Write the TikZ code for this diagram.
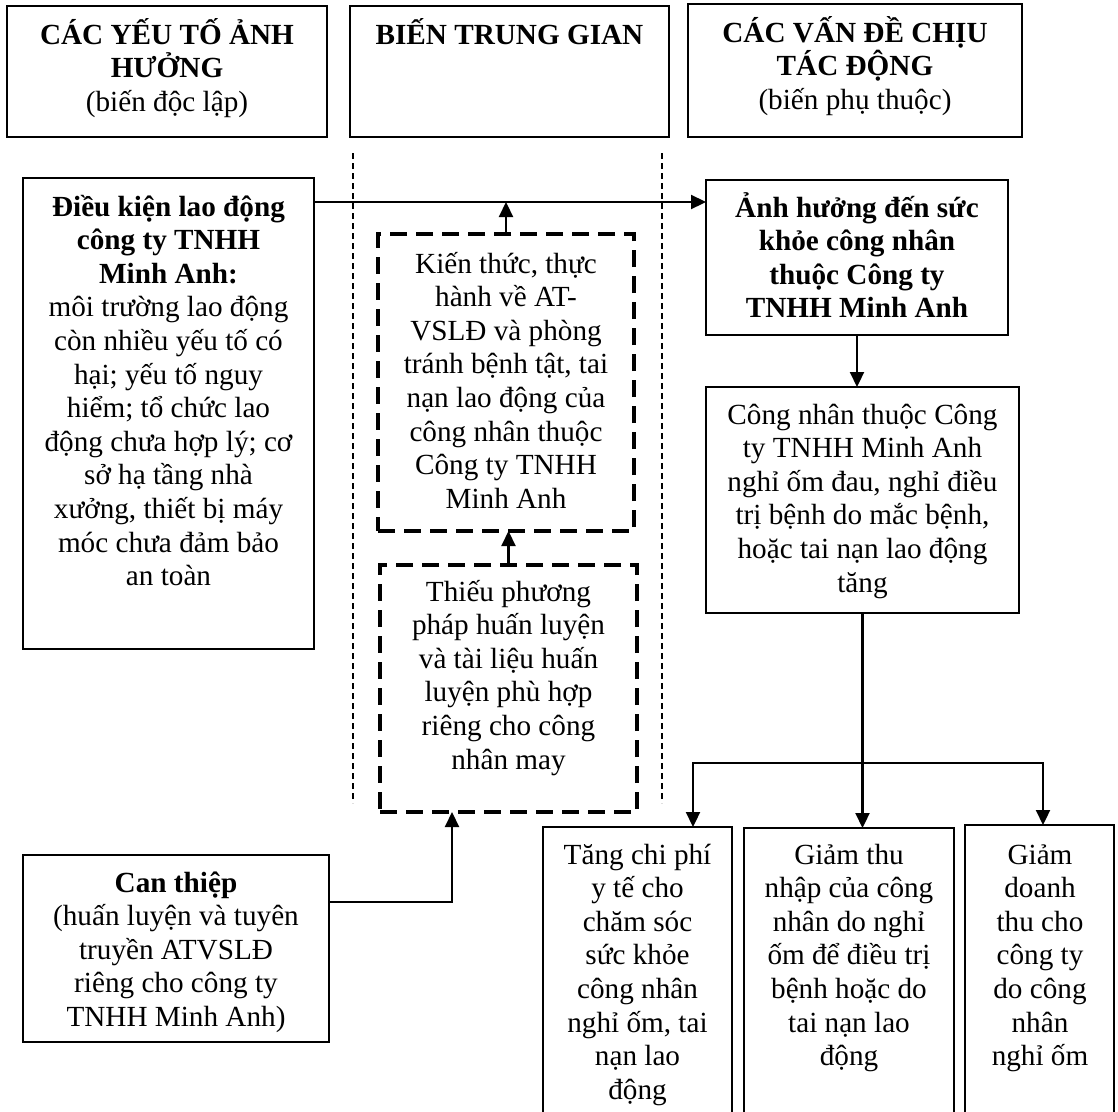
\documentclass[tikz,border=0pt]{standalone}
\usepackage{fontspec}
\setmainfont{Liberation Serif}
\usetikzlibrary{arrows.meta,calc}
\newcommand{\boxtext}[2]{\parbox[t]{#1}{\centering #2}}
\begin{document}
\begin{tikzpicture}[x=1pt,y=-1pt,
  box/.style={draw, line width=2.2pt, anchor=north west, inner sep=0pt, outer sep=0pt},
  dbox/.style={draw, line width=3.2pt, dash pattern=on 17pt off 9pt, anchor=north west, inner sep=0pt, outer sep=0pt},
  txt/.style={anchor=base, inner sep=0pt, font=\fontsize{29.2}{33.6}\selectfont},
  arr/.style={line width=2.2pt, -{Triangle[width=14pt,length=15pt]}},
  sepline/.style={line width=1.3pt, dash pattern=on 6pt off 4pt}]
\useasboundingbox (0,0) rectangle (1118,1111);
\clip (0,0) rectangle (1118,1111);

% header boxes
\node[box, minimum width=320pt, minimum height=131pt] (h1) at (7,6) {};
\node[box, minimum width=319pt, minimum height=131pt] (h2) at (350,6) {};
\node[box, minimum width=334pt, minimum height=133pt] (h3) at (688,4) {};
\node[txt] (th1) at (167,44) {\boxtext{312pt}{\textbf{CÁC YẾU TỐ ẢNH}\\\textbf{HƯỞNG}\\(biến độc lập)}};
\node[txt] (th2) at (509.5,44) {\boxtext{312pt}{\textbf{BIẾN TRUNG GIAN}}};
\node[txt] (th3) at (855,42) {\boxtext{324pt}{\textbf{CÁC VẤN ĐỀ CHỊU}\\\textbf{TÁC ĐỘNG}\\(biến phụ thuộc)}};

% separators
\draw[sepline] (353,153) -- (353,803);
\draw[sepline] (662,153) -- (662,803);

% left column
\node[box, minimum width=291pt, minimum height=471pt] (dk) at (23,178) {};
\node[txt] (tdk) at (168.5,216) {\boxtext{287pt}{\textbf{Điều kiện lao động}\\\textbf{công ty TNHH}\\\textbf{Minh Anh:}\\môi trường lao động\\còn nhiều yếu tố có\\hại; yếu tố nguy\\hiểm; tổ chức lao\\động chưa hợp lý; cơ\\sở hạ tầng nhà\\xưởng, thiết bị máy\\móc chưa đảm bảo\\an toàn}};
\node[box, minimum width=306pt, minimum height=187pt] (ct) at (23,855) {};
\node[txt] (tct) at (176,892) {\boxtext{302pt}{\textbf{Can thiệp}\\(huấn luyện và tuyên\\truyền ATVSLĐ\\riêng cho công ty\\TNHH Minh Anh)}};

% middle column
\node[dbox, minimum width=256pt, minimum height=297pt] (kt) at (378,234) {};
\node[txt] (tkt) at (506,273) {\boxtext{252pt}{Kiến thức, thực\\hành về AT-\\VSLĐ và phòng\\tránh bệnh tật, tai\\nạn lao động của\\công nhân thuộc\\Công ty TNHH\\Minh Anh}};
\node[dbox, minimum width=257pt, minimum height=247pt] (tp) at (380,565) {};
\node[txt] (ttp) at (508.5,601) {\boxtext{252pt}{Thiếu phương\\pháp huấn luyện\\và tài liệu huấn\\luyện phù hợp\\riêng cho công\\nhân may}};

% right column
\node[box, minimum width=302pt, minimum height=155pt] (ah) at (706,180) {};
\node[txt] (tah) at (857,217) {\boxtext{298pt}{\textbf{Ảnh hưởng đến sức}\\\textbf{khỏe công nhân}\\\textbf{thuộc Công ty}\\\textbf{TNHH Minh Anh}}};
\node[box, minimum width=313pt, minimum height=226pt] (cn) at (706,387) {};
\node[txt] (tcn) at (862.5,424) {\boxtext{310pt}{Công nhân thuộc Công\\ty TNHH Minh Anh\\nghỉ ốm đau, nghỉ điều\\trị bệnh do mắc bệnh,\\hoặc tai nạn lao động\\tăng}};

% bottom boxes
\node[box, minimum width=189pt, minimum height=320pt] (b1) at (543,827) {};
\node[txt] (tb1) at (637.5,864) {\boxtext{187pt}{Tăng chi phí\\y tế cho\\chăm sóc\\sức khỏe\\công nhân\\nghỉ ốm, tai\\nạn lao\\động}};
\node[box, minimum width=210pt, minimum height=320pt] (b2) at (744,828) {};
\node[txt] (tb2) at (849,864) {\boxtext{207pt}{Giảm thu\\nhập của công\\nhân do nghỉ\\ốm để điều trị\\bệnh hoặc do\\tai nạn lao\\động}};
\node[box, minimum width=149pt, minimum height=320pt] (b3) at (965,825) {};
\node[txt] (tb3) at (1040,864) {\boxtext{147pt}{Giảm\\doanh\\thu cho\\công ty\\do công\\nhân\\nghỉ ốm}};

% connectors
\coordinate (p1) at ($(dk.north east)+(0,24)$);
\draw[arr] (p1) -- (p1 -| ah.west);
\draw[arr] (kt.north) -- (kt.north |- p1);
\draw[arr] (tp.north) -- (tp.north |- kt.south);
\coordinate (p2) at ($(ct.north east)+(0,47)$);
\coordinate (p3) at ($(tp.south west)+(72,0)$);
\draw[arr] (p2) -| (p3);
\draw[arr] (ah.south) -- (ah.south |- cn.north);
\draw[arr] (cn.south) -- (cn.south |- b2.north);
\coordinate (br) at ($(cn.south)+(0,150)$);
\coordinate (e1) at ($(b1.north west)+(150,0)$);
\coordinate (e3) at ($(b3.north west)+(78,0)$);
\draw[arr] (br) -| (e1);
\draw[arr] (br) -| (e3);
\end{tikzpicture}
\end{document}
